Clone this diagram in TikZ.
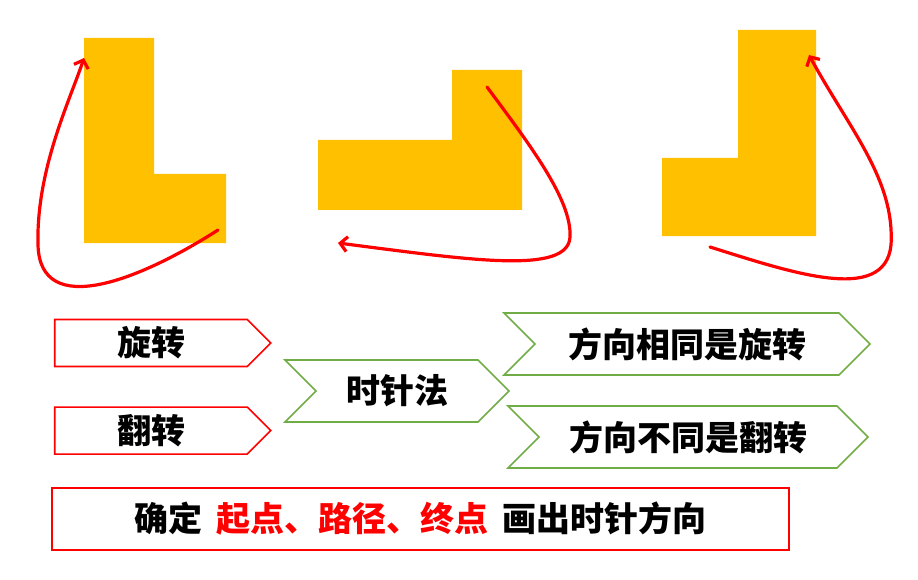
\documentclass[tikz,border=0pt]{standalone}
\usepackage{fontspec}
\setmainfont{Noto Sans CJK SC}
\usetikzlibrary{shapes.symbols,arrows.meta,positioning}
\definecolor{blockorange}{RGB}{255,192,0}
\definecolor{tracered}{RGB}{255,0,0}
\definecolor{rulegreen}{RGB}{112,173,71}
\tikzset{
  block/.style   ={fill=blockorange, draw=none},
  trace/.style   ={draw=tracered, line width=3.2pt, line cap=round,
                   -{Straight Barb[length=7pt,width=15pt]}},
  kindbox/.style ={signal, signal to=east, signal pointer angle=90, draw=tracered,
                   line width=1.6pt, minimum width=216pt, minimum height=47pt,
                   inner sep=0pt, font=\bfseries\fontsize{34}{34}\selectfont},
  rulebox/.style ={signal, signal from=west, signal to=east, signal pointer angle=90,
                   draw=rulegreen, line width=1.6pt, minimum height=62pt,
                   inner sep=0pt, font=\bfseries\fontsize{34}{34}\selectfont},
  notebox/.style ={rectangle, draw=tracered, line width=1.6pt, minimum width=737pt,
                   minimum height=62pt, inner sep=0pt, font=\bfseries\fontsize{34}{34}\selectfont}
}

\begin{document}
\begin{tikzpicture}[x=1pt, y=-1pt]
  \useasboundingbox (0,0) rectangle (918,580);

  % the three L blocks
  \fill[block] (84,38) -- (154,38) -- (154,174) -- (226,174) -- (226,243) -- (84,243) -- cycle;
  \fill[block] (318,140) -- (452,140) -- (452,70) -- (522,70) -- (522,210) -- (318,210) -- cycle;
  \fill[block] (738,30) -- (816,30) -- (816,236) -- (662,236) -- (662,158) -- (738,158) -- cycle;

  % clock traces
  \draw[trace] (218,230) .. controls (140,280) and (40,320) .. (38,245)
               .. controls (36,170) and (70,100) .. (84,58);
  \draw[trace] (487,87) .. controls (530,145) and (572,200) .. (570,237)
               .. controls (568,275) and (470,260) .. (338,243);
  \draw[trace] (710,247) .. controls (790,272) and (885,305) .. (891,245)
               .. controls (895,180) and (850,130) .. (809,55);

  \node[kindbox] (rot) at (151,343) {旋转};
  \node[kindbox, below=39pt of rot] (flip) {翻转};

  \node[rulebox, minimum width=224pt] (clock) at (397,391) {时针法};
  \node[rulebox, minimum width=366pt] (same) at (687,344) {方向相同是旋转};
  \node[rulebox, minimum width=360pt] (diff) at (688,437) {方向不同是翻转};

  \node[notebox] (note) at (420.5,519) {确定\hspace{14pt}\textcolor{tracered}{起点、路径、终点}\hspace{14pt}画出时针方向};
\end{tikzpicture}
\end{document}
